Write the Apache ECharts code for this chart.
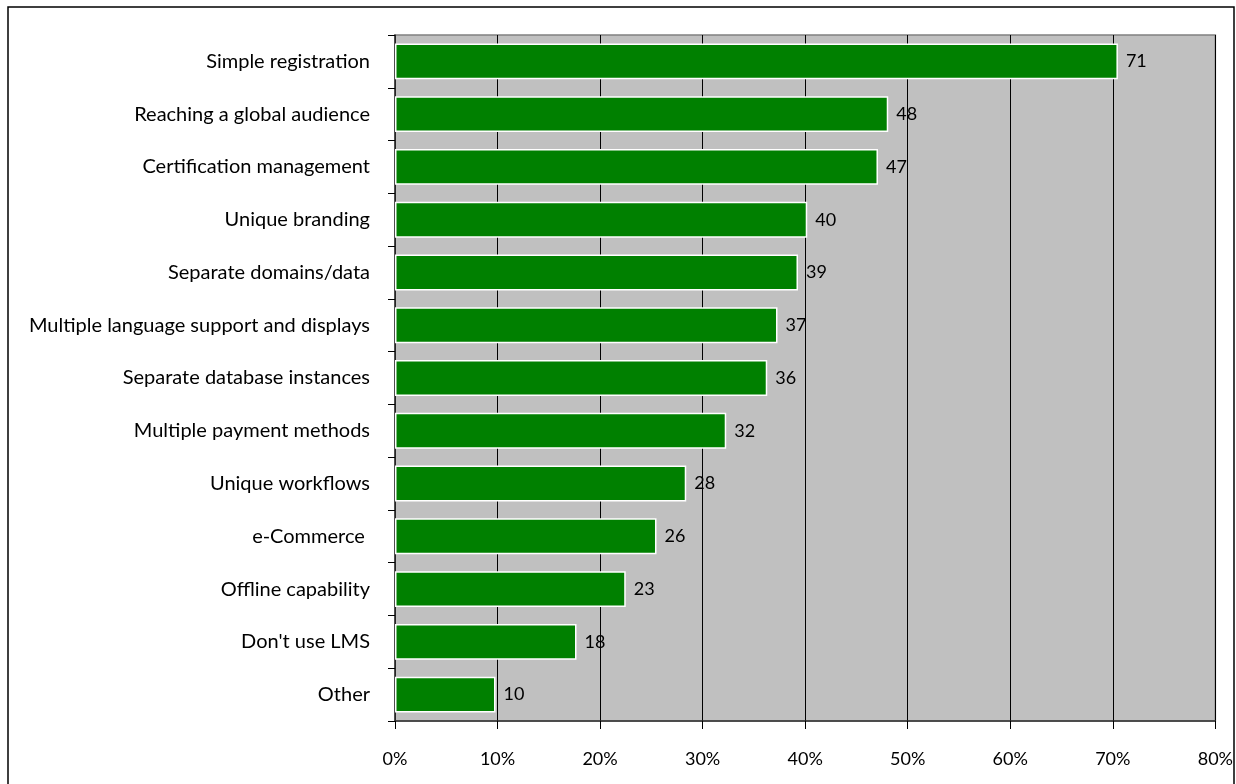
<!DOCTYPE html>
<html>
<head>
<meta charset="utf-8">
<script src="https://cdn.jsdelivr.net/npm/echarts@6/dist/echarts.min.js"></script>
<style>
html,body{margin:0;padding:0;background:#fff;}
#c{width:1236px;height:784px;}
</style>
</head>
<body>
<div id="c"></div>
<script>
const categories = [
  "Simple registration",
  "Reaching a global audience",
  "Certification management",
  "Unique branding",
  "Separate domains/data",
  "Multiple language support and displays",
  "Separate database instances",
  "Multiple payment methods",
  "Unique workflows",
  "e-Commerce ",
  "Offline capability",
  "Don't use LMS",
  "Other"
];
const values = [70.5, 48.1, 47.1, 40.2, 39.3, 37.3, 36.3, 32.3, 28.4, 25.5, 22.5, 17.7, 9.8];
const valueLabels = ["71", "48", "47", "40", "39", "37", "36", "32", "28", "26", "23", "18", "10"];
const xTicks = [0, 10, 20, 30, 40, 50, 60, 70, 80];

const FONT = "Lato, 'Open Sans', sans-serif";
const chart = echarts.init(document.getElementById('c'), null, {renderer: 'canvas'});
chart.setOption({
  animation: false,
  backgroundColor: '#fff',
  textStyle: {fontFamily: FONT},
  graphic: [{
    type: 'rect',
    shape: {x: 8, y: 7, width: 1226, height: 820},
    style: {fill: 'none', stroke: '#000', lineWidth: 1.5},
    silent: true
  }],
  grid: {
    left: 395, right: 19, top: 35, bottom: 63,
    show: true, backgroundColor: '#C0C0C0', borderColor: '#808080', borderWidth: 1.5
  },
  xAxis: {
    type: 'value',
    min: xTicks[0], max: xTicks[xTicks.length - 1], interval: 10,
    axisLine: {show: true, lineStyle: {color: '#333', width: 1.5}},
    axisTick: {show: true, length: 8, lineStyle: {color: '#000'}},
    splitLine: {show: true, lineStyle: {color: '#000', width: 1}},
    axisLabel: {formatter: '{value}%', fontSize: 18, color: '#000', margin: 29, fontFamily: FONT}
  },
  yAxis: {
    type: 'category',
    inverse: true,
    data: categories,
    axisLine: {show: true, lineStyle: {color: '#333', width: 1.5}},
    axisTick: {show: true, length: 7, interval: 0, lineStyle: {color: '#000'}},
    axisLabel: {fontSize: 20, color: '#000', margin: 25, interval: 0, fontFamily: FONT}
  },
  series: [{
    type: 'bar',
    data: values,
    barCategoryGap: '32%',
    itemStyle: {color: '#008000', borderColor: '#fff', borderWidth: 1.5},
    label: {
      show: true, position: 'right', distance: 8,
      fontSize: 18, color: '#000', fontFamily: FONT,
      formatter: p => valueLabels[p.dataIndex]
    }
  }]
});
</script>
</body>
</html>
